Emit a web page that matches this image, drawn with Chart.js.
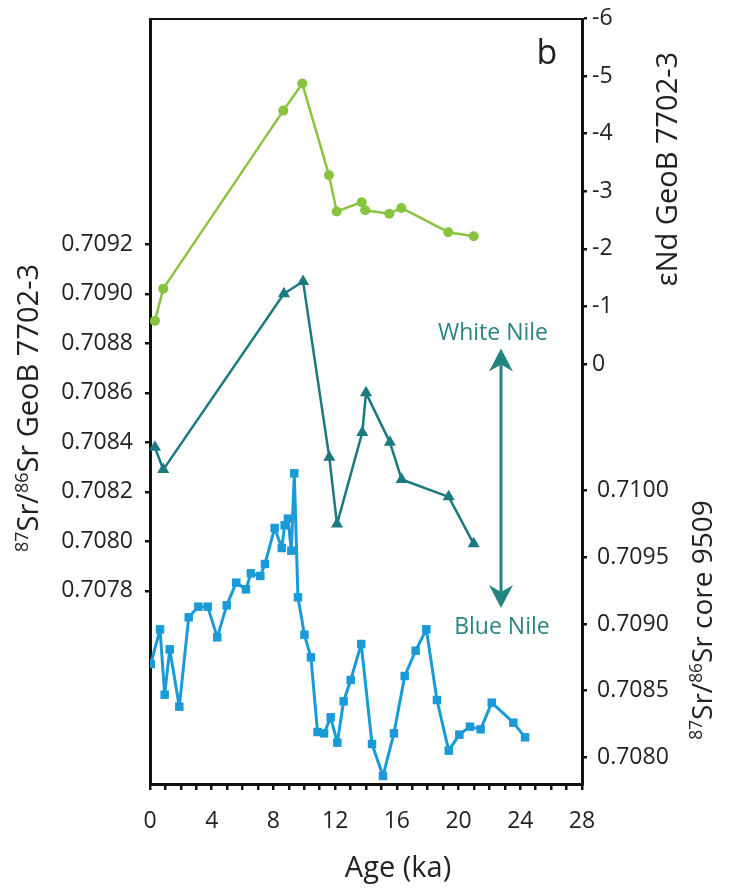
<!DOCTYPE html>
<html>
<head>
<meta charset="utf-8">
<script src="https://cdn.jsdelivr.net/npm/chart.js@4.4.1/dist/chart.umd.min.js"></script>
<style>
  body { margin: 0; background: #fff; }
  canvas { display: block; }
</style>
</head>
<body>
<canvas id="chart" width="733" height="894"></canvas>
<script>
// eNd, GeoB 7702-3 (upper right axis, reversed)
const ndAge = [0.32, 0.86, 8.64, 9.87, 11.60, 12.10, 13.72, 13.95, 15.51, 16.29, 19.33, 20.98];
const ndValue = [-0.75, -1.31, -4.40, -4.87, -3.28, -2.65, -2.81, -2.67, -2.61, -2.71, -2.29, -2.22];

// 87Sr/86Sr, GeoB 7702-3 (left axis)
const srGeoAge = [0.32, 0.86, 8.68, 9.92, 11.62, 12.12, 13.76, 14.00, 15.55, 16.31, 19.36, 20.98];
const srGeoValue = [0.70838, 0.70829, 0.70900, 0.70905, 0.70834, 0.70807, 0.70844, 0.70860,
  0.70840, 0.70825, 0.70818, 0.70799];

// 87Sr/86Sr, core 9509 (lower right axis)
const srCoreAge = [0.05, 0.65, 0.95, 1.28, 1.90, 2.51, 3.13, 3.74, 4.36, 4.97, 5.59, 6.22,
  6.54, 7.15, 7.45, 8.08, 8.54, 8.73, 8.94, 9.16, 9.35, 9.59, 10.01, 10.43, 10.86, 11.28,
  11.71, 12.14, 12.55, 13.01, 13.69, 14.39, 15.10, 15.81, 16.51, 17.22, 17.91, 18.60,
  19.36, 20.05, 20.74, 21.43, 22.15, 23.55, 24.31];
const srCoreValue = [0.70870, 0.70896, 0.70847, 0.70881, 0.70838, 0.70905, 0.70913, 0.70913,
  0.70890, 0.70914, 0.70931, 0.70926, 0.70938, 0.70936, 0.70945, 0.70972, 0.70957, 0.70974,
  0.70979, 0.70955, 0.71013, 0.70920, 0.70892, 0.70875, 0.70819, 0.70818, 0.70830, 0.70811,
  0.70842, 0.70858, 0.70885, 0.70810, 0.70786, 0.70818, 0.70861, 0.70880, 0.70896, 0.70843,
  0.70805, 0.70817, 0.70823, 0.70821, 0.70841, 0.70826, 0.70815];

// tick labels
const ageTicks = [0, 4, 8, 12, 16, 20, 24, 28];
const srGeoTicks = [0.7078, 0.7080, 0.7082, 0.7084, 0.7086, 0.7088, 0.7090, 0.7092];
const ndTicks = [-6, -5, -4, -3, -2, -1, 0];
const srCoreTicks = [0.7080, 0.7085, 0.7090, 0.7095, 0.7100];

const toPoints = (xs, ys) => xs.map((x, i) => ({ x: x, y: ys[i] }));

Chart.defaults.font.family = "'Open Sans', sans-serif";

const gridOpts = { drawOnChartArea: false, drawTicks: true, tickLength: 5, lineWidth: 2.5, color: "#111" };
const borderOpts = { display: true, width: 3, color: "#111" };
const tickFont = { size: 23 };

function fixedWidth(w) {
  return function (scale) {
    scale.width = w;
    scale.paddingTop = 0;
    scale.paddingBottom = 0;
  };
}

function drawTitle(ctx, parts, x, y, size, color) {
  const sup = size * 0.62;
  ctx.save();
  ctx.translate(x, y);
  ctx.rotate(-Math.PI / 2);
  ctx.fillStyle = color;
  ctx.textBaseline = "alphabetic";
  ctx.textAlign = "left";
  let total = 0;
  parts.forEach((p) => {
    ctx.font = (p.sup ? sup : size) + "px 'Open Sans'";
    p.w = ctx.measureText(p.t).width;
    total += p.w;
  });
  let pos = -total / 2;
  parts.forEach((p) => {
    ctx.font = (p.sup ? sup : size) + "px 'Open Sans'";
    ctx.fillText(p.t, pos, p.sup ? -size * 0.36 : 0);
    pos += p.w;
  });
  ctx.restore();
}

function arrowHead(ctx, x, tipY, dir) {
  // dir = -1 points up, 1 points down
  ctx.beginPath();
  ctx.moveTo(x, tipY);
  ctx.lineTo(x - 12, tipY - dir * 23);
  ctx.lineTo(x, tipY - dir * 16);
  ctx.lineTo(x + 12, tipY - dir * 23);
  ctx.closePath();
  ctx.fill();
}

const extras = {
  id: "extras",
  afterDraw(chart) {
    const ctx = chart.ctx;
    const area = chart.chartArea;
    const xs = chart.scales.x;
    const ys = chart.scales.ySrGeo;

    // top frame line
    ctx.save();
    ctx.strokeStyle = "#111";
    ctx.lineWidth = 2;
    ctx.beginPath();
    ctx.moveTo(area.left, area.top);
    ctx.lineTo(area.right, area.top);
    ctx.stroke();

    // panel letter
    ctx.fillStyle = "#222";
    ctx.font = "34px 'Open Sans'";
    ctx.textAlign = "center";
    ctx.textBaseline = "alphabetic";
    ctx.fillText("b", 547, 64);

    // axis titles
    drawTitle(ctx, [{ t: "87", sup: true }, { t: "Sr/" }, { t: "86", sup: true }, { t: "Sr GeoB 7702-3" }], 38, 408, 29, "#222");
    drawTitle(ctx, [{ t: "εNd GeoB 7702-3" }], 677, 169, 29, "#222");
    drawTitle(ctx, [{ t: "87", sup: true }, { t: "Sr/" }, { t: "86", sup: true }, { t: "Sr core 9509" }], 712, 620, 28, "#222");

    ctx.font = "29px 'Open Sans'";
    ctx.textAlign = "center";
    ctx.fillStyle = "#222";
    ctx.fillText("Age (ka)", 398, 877);

    // White Nile / Blue Nile arrow
    const ax = xs.getPixelForValue(22.75);
    const top = ys.getPixelForValue(0.708779);
    const bot = ys.getPixelForValue(0.707731);
    ctx.strokeStyle = "#238580";
    ctx.fillStyle = "#238580";
    ctx.lineWidth = 3;
    ctx.beginPath();
    ctx.moveTo(ax, top + 14);
    ctx.lineTo(ax, bot - 14);
    ctx.stroke();
    arrowHead(ctx, ax, top, -1);
    arrowHead(ctx, ax, bot, 1);

    ctx.fillStyle = "#2a8582";
    ctx.font = "23px 'Open Sans'";
    ctx.textBaseline = "middle";
    ctx.fillText("White Nile", xs.getPixelForValue(22.23), ys.getPixelForValue(0.708840));
    ctx.fillText("Blue Nile", xs.getPixelForValue(22.81), ys.getPixelForValue(0.707654));
    ctx.restore();
  },
};

new Chart(document.getElementById("chart"), {
  type: "line",
  data: {
    datasets: [
      {
        label: "eNd GeoB 7702-3",
        data: toPoints(ndAge, ndValue),
        yAxisID: "yNd",
        borderColor: "#88c440",
        backgroundColor: "#88c440",
        borderWidth: 2.5,
        pointStyle: "circle",
        pointRadius: 5,
        pointBorderWidth: 0,
      },
      {
        label: "87Sr/86Sr GeoB 7702-3",
        data: toPoints(srGeoAge, srGeoValue),
        yAxisID: "ySrGeo",
        borderColor: "#1b7a80",
        backgroundColor: "#1b7a80",
        borderWidth: 2.5,
        pointStyle: "triangle",
        pointRadius: 7,
        pointBorderWidth: 0,
      },
      {
        label: "87Sr/86Sr core 9509",
        data: toPoints(srCoreAge, srCoreValue),
        yAxisID: "ySrCore",
        borderColor: "#1a9bd7",
        backgroundColor: "#1a9bd7",
        borderWidth: 3,
        pointStyle: "rect",
        pointRadius: 6,
        pointBorderWidth: 0,
      },
    ],
  },
  options: {
    responsive: false,
    animation: false,
    layout: { padding: { top: 19, left: 0, right: 0, bottom: 0 } },
    plugins: { legend: { display: false }, tooltip: { enabled: false } },
    elements: { line: { tension: 0, fill: false, borderJoinStyle: "round" } },
    scales: {
      x: {
        type: "linear",
        min: 0,
        max: 28,
        grid: Object.assign({}, gridOpts, { tickLength: 6 }),
        border: borderOpts,
        ticks: {
          stepSize: 1,
          autoSkip: false,
          maxRotation: 0,
          padding: 18,
          color: "#222",
          font: tickFont,
          callback: (v) => (ageTicks.includes(v) ? String(v) : ""),
        },
        afterFit: (s) => { s.height = 110; },
      },
      ySrGeo: {
        type: "linear",
        position: "left",
        min: 0.70702,
        max: 0.71011,
        grid: gridOpts,
        border: borderOpts,
        ticks: { padding: 12, color: "#222", font: tickFont, callback: (v) => v.toFixed(4) },
        afterBuildTicks: (s) => { s.ticks = srGeoTicks.map((v) => ({ value: v })); },
        afterFit: fixedWidth(150),
      },
      yNd: {
        type: "linear",
        position: "right",
        stack: "right",
        stackWeight: 401,
        reverse: true,
        min: -5.99,
        max: 0.97,
        grid: gridOpts,
        border: borderOpts,
        ticks: { padding: 5, color: "#222", font: tickFont, callback: (v) => String(v) },
        afterBuildTicks: (s) => { s.ticks = ndTicks.map((v) => ({ value: v })); },
        afterFit: fixedWidth(151),
      },
      ySrCore: {
        type: "linear",
        position: "right",
        stack: "right",
        stackWeight: 364,
        min: 0.7078,
        max: 0.71053,
        grid: gridOpts,
        border: borderOpts,
        ticks: { padding: 10, color: "#222", font: tickFont, callback: (v) => v.toFixed(4) },
        afterBuildTicks: (s) => { s.ticks = srCoreTicks.map((v) => ({ value: v })); },
        afterFit: fixedWidth(151),
      },
    },
  },
  plugins: [extras],
});
</script>
</body>
</html>
